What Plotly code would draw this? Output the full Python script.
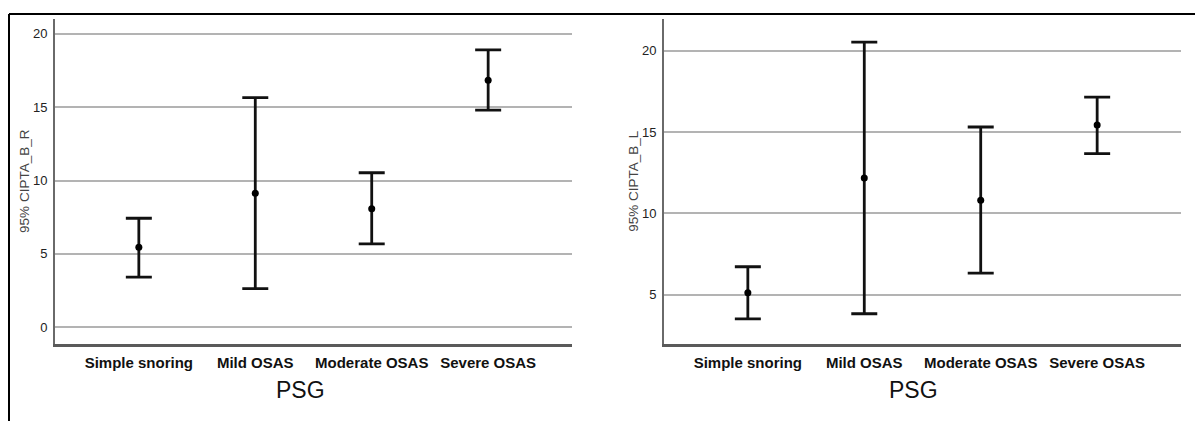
import plotly.graph_objects as go
from plotly.subplots import make_subplots

categories = ["Simple snoring", "Mild OSAS", "Moderate OSAS", "Severe OSAS"]

# Left panel: 95% CI PTA_B_R
mean_r = [5.45, 9.14, 8.07, 16.83]
lower_r = [3.42, 2.64, 5.68, 14.80]
upper_r = [7.43, 15.64, 10.53, 18.90]

# Right panel: 95% CI PTA_B_L
mean_l = [5.12, 12.17, 10.80, 15.43]
lower_l = [3.52, 3.83, 6.33, 13.67]
upper_l = [6.72, 20.53, 15.31, 17.15]

ticks_r = [0, 5, 10, 15, 20]
ticks_l = [5, 10, 15, 20]
ytitle_r = "95% CIPTA_B_R"
ytitle_l = "95% CIPTA_B_L"
xtitle = "PSG"

# page body has an 8px margin; figure fills the rest of the window
OFF = 8
W, H = 1203 - OFF, 421 - OFF


def px(x):
    return (x - OFF) / W


def py(y):
    return 1 - (y - OFF) / H


fig = make_subplots(rows=1, cols=2)


def add_panel(mean, lo, hi, col):
    fig.add_trace(
        go.Scatter(
            x=categories,
            y=mean,
            mode="markers",
            marker=dict(color="black", size=7),
            error_y=dict(
                type="data",
                symmetric=False,
                array=[h - m for h, m in zip(hi, mean)],
                arrayminus=[m - l for m, l in zip(mean, lo)],
                color="#111111",
                thickness=2.8,
                width=13,
            ),
            showlegend=False,
            hoverinfo="skip",
        ),
        row=1,
        col=col,
    )


add_panel(mean_r, lower_r, upper_r, 1)
add_panel(mean_l, lower_l, upper_l, 2)

ydom = [py(343.5), py(19)]
xaxis_common = dict(
    type="category",
    range=[-0.72, 3.72],
    showgrid=False,
    showline=True,
    linecolor="#5a5a5a",
    linewidth=2.5,
    ticks="",
    ticklabelstandoff=4,
    tickfont=dict(family="Liberation Sans, Arial", size=15, color="#111111", weight="bold"),
    zeroline=False,
)
yaxis_common = dict(
    showgrid=True,
    gridcolor="#b3b3b3",
    gridwidth=2.2,
    showline=True,
    linecolor="#6a6a6a",
    linewidth=2,
    ticks="",
    ticklabelstandoff=3,
    tickfont=dict(family="Liberation Sans, Arial", size=13, color="#222222"),
    zeroline=False,
    title_font=dict(family="Liberation Sans, Arial", size=13.5, color="#444444"),
    title_standoff=0,
)

fig.update_layout(
    width=W,
    height=H,
    margin=dict(l=0, r=0, t=0, b=0),
    paper_bgcolor="white",
    plot_bgcolor="white",
    xaxis=dict(domain=[px(55), px(572)], **xaxis_common),
    xaxis2=dict(domain=[px(664), px(1181)], **xaxis_common),
    yaxis=dict(domain=ydom, range=[-1.1, 21.0], tickvals=ticks_r,
               title_text=ytitle_r, **yaxis_common),
    yaxis2=dict(domain=ydom, range=[2.0, 21.95], tickvals=ticks_l,
                title_text=ytitle_l, **yaxis_common),
)

for xc in (300, 913):
    fig.add_annotation(
        x=px(xc), y=py(390), xref="paper", yref="paper",
        text=xtitle, showarrow=False,
        font=dict(family="Liberation Sans, Arial", size=23, color="#111111"),
        xanchor="center", yanchor="middle",
    )

# outer frame lines (top and left)
fig.add_shape(type="line", xref="paper", yref="paper",
              x0=px(9), x1=1.0, y0=py(14), y1=py(14),
              line=dict(color="black", width=2))
fig.add_shape(type="line", xref="paper", yref="paper",
              x0=px(9), x1=px(9), y0=py(14), y1=0,
              line=dict(color="black", width=2))

fig.write_html("out.html")
